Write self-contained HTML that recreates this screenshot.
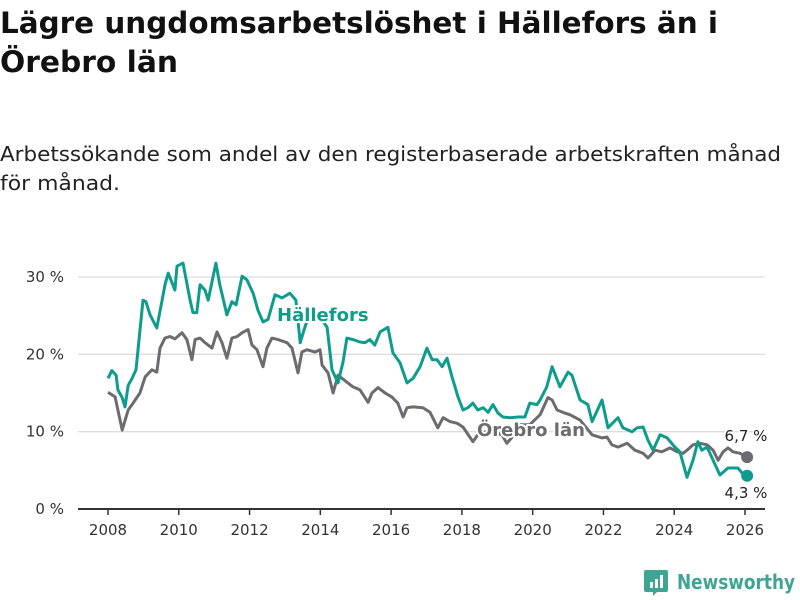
<!DOCTYPE html>
<html><head><meta charset="utf-8"><style>
html,body{margin:0;padding:0;background:#fff;width:800px;height:600px;overflow:hidden}
svg{display:block;font-family:"DejaVu Sans","Liberation Sans",sans-serif}
</style></head><body>
<svg id="chart" width="800" height="600" viewBox="0 0 800 600">
<text x="0" y="33" font-size="29" font-weight="bold" fill="#111" textLength="718" lengthAdjust="spacingAndGlyphs">Lägre ungdomsarbetslöshet i Hällefors än i</text>
<text x="0" y="72" font-size="29" font-weight="bold" fill="#111" textLength="178" lengthAdjust="spacingAndGlyphs">Örebro län</text>
<text x="0" y="161" font-size="20" fill="#222" textLength="781" lengthAdjust="spacingAndGlyphs">Arbetssökande som andel av den registerbaserade arbetskraften månad</text>
<text x="0" y="190" font-size="20" fill="#222" textLength="120" lengthAdjust="spacingAndGlyphs">för månad.</text>
<g id="grid"></g>
<g id="yticks"></g>
<g id="xticks"></g>
<g id="series"></g>
<g id="labels"></g>
<g transform="translate(646,570)">
<path d="M0 0 h20 a2 2 0 0 1 2 2 v18 a2 2 0 0 1 -2 2 h-9 l-4 4 v-4 h-7 a2 2 0 0 1 -2 -2 v-18 a2 2 0 0 1 2 -2z" fill="#3fa593"/>
<rect x="4" y="12" width="3" height="6" fill="#fff"/><rect x="9" y="9" width="3" height="9" fill="#fff"/><rect x="14" y="5" width="3" height="13" fill="#fff"/>
<text x="31" y="19" font-size="20" font-weight="bold" fill="#3fa593" textLength="118" lengthAdjust="spacingAndGlyphs">Newsworthy</text>
</g>
</svg>
<script>
const hDates=[2008.00,2008.11,2008.23,2008.28,2008.40,2008.48,2008.57,2008.68,2008.79,2008.99,2009.07,2009.19,2009.38,2009.53,2009.61,2009.70,2009.89,2009.95,2010.12,2010.32,2010.40,2010.51,2010.60,2010.74,2010.83,2011.05,2011.16,2011.36,2011.50,2011.62,2011.79,2011.93,2012.10,2012.24,2012.38,2012.52,2012.72,2012.92,2013.14,2013.31,2013.43,2013.54,2013.71,2013.99,2014.19,2014.33,2014.50,2014.64,2014.75,2014.92,2015.12,2015.26,2015.40,2015.54,2015.69,2015.91,2016.05,2016.25,2016.45,2016.62,2016.82,2017.01,2017.16,2017.30,2017.44,2017.58,2017.72,2017.89,2018.03,2018.17,2018.31,2018.45,2018.60,2018.74,2018.88,2019.02,2019.16,2019.36,2019.59,2019.78,2019.92,2020.12,2020.21,2020.40,2020.55,2020.77,2021.00,2021.11,2021.34,2021.56,2021.68,2021.96,2022.13,2022.41,2022.55,2022.81,2022.95,2023.12,2023.26,2023.40,2023.60,2023.80,2024.02,2024.16,2024.36,2024.53,2024.67,2024.78,2024.93,2025.10,2025.29,2025.52,2025.80,2025.91,2026.06];
const hValues=[16.9,17.9,17.3,15.4,14.4,13.2,16.0,16.9,18.0,27.0,26.8,25.1,23.4,27.0,29.0,30.5,28.3,31.4,31.8,27.0,25.4,25.4,29.0,28.3,27.0,31.8,29.0,25.1,26.8,26.4,30.1,29.6,27.9,25.7,24.2,24.5,27.7,27.3,27.9,27.0,21.5,23.2,25.5,24.8,23.5,18.0,16.3,19.0,22.1,21.9,21.6,21.5,21.9,21.2,22.9,23.5,20.2,18.9,16.3,16.9,18.4,20.8,19.3,19.3,18.4,19.5,17.1,14.5,12.8,13.1,13.7,12.8,13.1,12.5,13.5,12.4,11.9,11.8,11.9,11.9,13.7,13.5,14.1,15.8,18.4,15.8,17.7,17.3,14.1,13.5,11.3,14.1,10.5,11.8,10.5,10.0,10.5,10.6,8.9,7.6,9.6,9.2,8.0,7.4,4.1,6.3,8.7,7.6,8.0,6.3,4.4,5.3,5.3,4.7,4.3];
const oDates=[2008.00,2008.20,2008.40,2008.57,2008.71,2008.90,2009.05,2009.24,2009.38,2009.47,2009.61,2009.75,2009.89,2010.09,2010.23,2010.37,2010.46,2010.60,2010.74,2010.94,2011.08,2011.22,2011.36,2011.50,2011.65,2011.79,2011.96,2012.07,2012.21,2012.38,2012.49,2012.63,2012.80,2013.06,2013.20,2013.37,2013.48,2013.62,2013.85,2013.99,2014.05,2014.22,2014.36,2014.50,2014.75,2014.92,2015.12,2015.35,2015.46,2015.63,2015.83,2016.02,2016.19,2016.34,2016.45,2016.62,2016.90,2017.10,2017.32,2017.47,2017.66,2017.86,2018.03,2018.31,2018.45,2018.79,2019.13,2019.27,2019.42,2019.64,2019.92,2020.21,2020.43,2020.55,2020.69,2020.91,2021.05,2021.34,2021.68,2021.96,2022.10,2022.24,2022.41,2022.67,2022.89,2023.12,2023.26,2023.46,2023.65,2023.88,2024.08,2024.25,2024.36,2024.53,2024.73,2024.93,2025.10,2025.24,2025.38,2025.52,2025.66,2025.86,2026.06];
const oValues=[15.1,14.5,10.2,12.8,13.7,15.0,17.1,18.0,17.7,20.8,22.1,22.3,22.0,22.8,21.9,19.3,21.9,22.1,21.5,20.8,22.9,21.5,19.5,22.1,22.3,22.8,23.2,21.2,20.6,18.4,20.8,22.1,21.9,21.5,20.8,17.6,20.3,20.6,20.3,20.6,18.6,17.6,15.0,17.3,16.4,15.8,15.4,13.8,15.0,15.7,15.0,14.5,13.7,11.9,13.1,13.2,13.1,12.5,10.5,11.8,11.3,11.1,10.6,8.7,9.6,10.2,9.6,8.5,9.3,10.9,10.9,12.2,14.4,14.1,12.8,12.4,12.2,11.5,9.6,9.2,9.3,8.3,8.0,8.5,7.6,7.2,6.6,7.6,7.4,7.9,7.4,7.2,7.6,8.3,8.5,8.3,7.6,6.3,7.4,7.9,7.4,7.2,6.7];
const yTicks=[0,10,20,30];
const yTickLabels=["0 %","10 %","20 %","30 %"];
const xTicks=[2008,2010,2012,2014,2016,2018,2020,2022,2024,2026];
const xTickLabels=["2008","2010","2012","2014","2016","2018","2020","2022","2024","2026"];
const seriesNames=["Hällefors","Örebro län"];

const NS="http://www.w3.org/2000/svg";
const X0=78,X1=765;
function xs(t){return 108+(t-2008)*(745-108)/18;}
function ys(v){return 509-v*(509-277)/30;}
function mk(tag,attrs,parent){const e=document.createElementNS(NS,tag);for(const k in attrs)e.setAttribute(k,attrs[k]);parent.appendChild(e);return e;}
const grid=document.getElementById('grid'),yt=document.getElementById('yticks'),xt=document.getElementById('xticks'),ser=document.getElementById('series'),lab=document.getElementById('labels');
yTicks.forEach((v,i)=>{
  if(v>0){const l=mk('line',{x1:X0,x2:X1,y1:ys(v),y2:ys(v),stroke:'#dcdcdc','stroke-width':1.3},grid);
  
  }
  const t=mk('text',{x:64,y:ys(v)+5,'font-size':15,'text-anchor':'end',fill:'#333'},yt);
  
  
  t.textContent=yTickLabels[i];
});
const ax=mk('line',{x1:X0,x2:X1,y1:509,y2:509,stroke:'#333','stroke-width':2},xt);


xTicks.forEach((v,i)=>{
  const tk=mk('line',{x1:xs(v),x2:xs(v),y1:509,y2:515,stroke:'#333','stroke-width':1.5},xt);
  
  
  const t=mk('text',{x:xs(v),y:535,'font-size':15,'text-anchor':'middle',fill:'#333'},xt);
  
  
  t.textContent=xTickLabels[i];
});
function line(d,v,color,name){
  const p=d.map((t,i)=>(i?'L':'M')+xs(t).toFixed(1)+' '+ys(v[i]).toFixed(1)).join(' ');
  const el=mk('path',{d:p,fill:'none',stroke:color,'stroke-width':3,'stroke-linejoin':'round'},ser);
  
  
  const n=d.length-1;
  const c=mk('circle',{cx:xs(d[n]),cy:ys(v[n]),r:6,fill:color},ser);
  
  
}
line(oDates,oValues,'#6c6b70','orebro');
line(hDates,hValues,'#0e9c8c','hallefors');
function label(txt,x,y,color,name,bold,anchor){
  const t=mk('text',{x:x,y:y,'font-size':bold?18:15,'font-weight':bold?'bold':'normal','text-anchor':anchor||'start',fill:color,stroke:'#fff','stroke-width':bold?4:3,'paint-order':'stroke','stroke-linejoin':'round'},lab);
  
  
  t.textContent=txt;
}
label(seriesNames[0],277,321,'#0e9c8c','hallefors-label',true);
label(seriesNames[1],477,436,'#6c6b70','orebro-label',true);
const hl=hValues[hValues.length-1],ol=oValues[oValues.length-1];
label(ol.toFixed(1).replace('.',',')+' %',746,441,'#222','orebro-last-value',false,'middle');
label(hl.toFixed(1).replace('.',',')+' %',746,498,'#222','hallefors-last-value',false,'middle');
</script>
</body></html>
